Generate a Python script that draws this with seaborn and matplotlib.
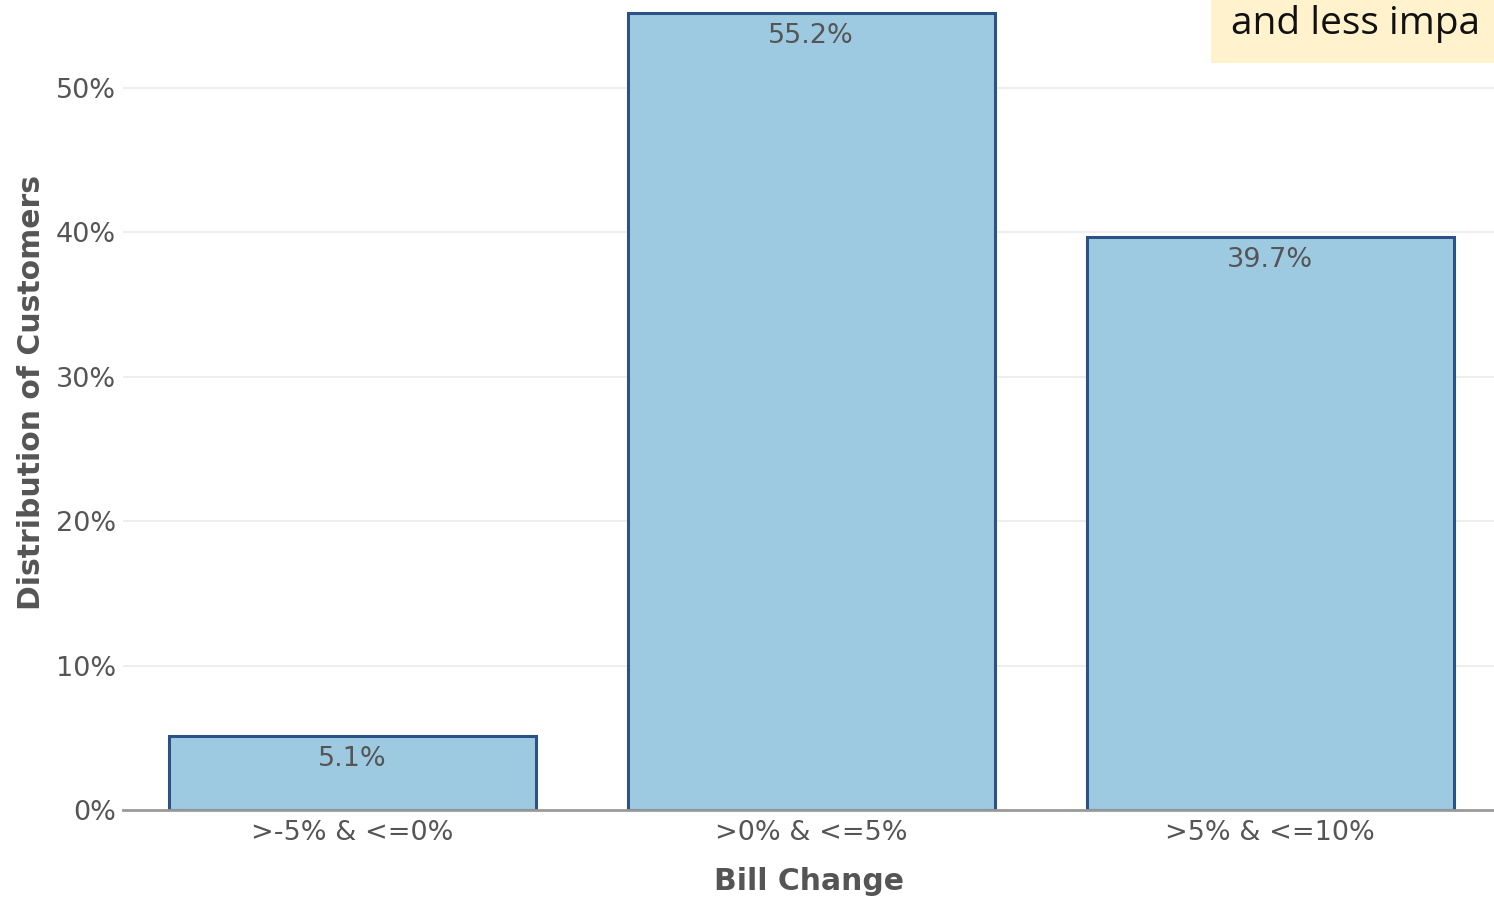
import matplotlib
matplotlib.use("Agg")
import matplotlib.pyplot as plt
import seaborn as sns
import pandas as pd
from matplotlib.ticker import FuncFormatter

categories = [">-5% & <=0%", ">0% & <=5%", ">5% & <=10%"]
values = [5.1, 55.2, 39.7]
value_labels = ["5.1%", "55.2%", "39.7%"]
yticks = [0, 10, 20, 30, 40, 50]

df = pd.DataFrame({"Bill Change": categories, "Share": values})

sns.set_theme(style="white")
plt.rcParams['font.family'] = ['DejaVu Sans']

fig = plt.figure(figsize=(14.94, 8.99), dpi=100)
ax = fig.add_axes([123/1494, 89/899, (1494-123)/1494, 810/899])

sns.barplot(data=df, x="Bill Change", y="Share", ax=ax, color="#9ecae1",
            saturation=1, width=0.8, edgecolor="#2c5185", linewidth=2.2, zorder=3)

ax.set_xlim(-0.5, 2.488)
ax.set_ylim(0, 56.1)
ax.set_yticks(yticks)
ax.yaxis.set_major_formatter(FuncFormatter(lambda v, p: f"{v:.0f}%"))
ax.grid(axis="y", color="#ebebeb", linewidth=1.2, zorder=0)
ax.set_axisbelow(True)
for s in ["top", "right", "left"]:
    ax.spines[s].set_visible(False)
ax.spines["bottom"].set_color("#9a9a9a")
ax.spines["bottom"].set_linewidth(2)
ax.spines["bottom"].set_zorder(5)
ax.tick_params(axis="both", length=0, labelsize=19.5, labelcolor="#555555")
ax.tick_params(axis="y", pad=5)
ax.tick_params(axis="x", pad=7)

ax.set_xlabel("Bill Change", fontsize=21.5, fontweight="bold", color="#555555", labelpad=15)
ax.set_ylabel("Distribution of Customers", fontsize=21.5, fontweight="bold", color="#555555")
ax.yaxis.set_label_coords(-0.0561, 0.516)

for i, (v, lab) in enumerate(zip(values, value_labels)):
    ax.annotate(lab, xy=(i, v), xytext=(0, -23), textcoords="offset pixels",
                ha="center", va="center", fontsize=19.5, color="#555555", zorder=6)

# callout box at top right (cut off at the figure edge in the reference)
fig.patches.append(plt.Rectangle((1211/1494, 1 - 63/899), (1494-1211)/1494, 63/899,
                                 transform=fig.transFigure, facecolor="#fff2cc",
                                 edgecolor="none", zorder=10))
fig.text(1231/1494, 1 - 24/899, "and less impa", fontsize=28, color="#111111",
         family=["Open Sans", "DejaVu Sans"], ha="left", va="center", zorder=11)

fig.savefig("out.png", dpi=100)
